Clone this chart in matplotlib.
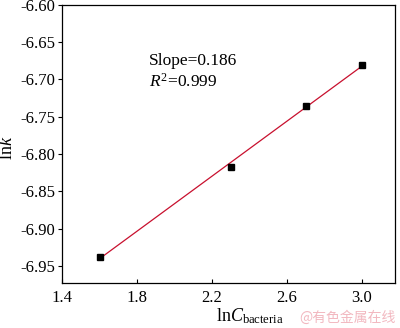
import numpy as np
import matplotlib
matplotlib.use('Agg')
import matplotlib.pyplot as plt

# measured points: ln(bacteria concentration) vs ln(rate constant)
ln_c = [1.6, 2.3, 2.7, 3.0]
ln_k = [-6.938, -6.817, -6.735, -6.681]
slope_text = 'Slope=0.186'
r2_text = '$R^2$=0.999'

x_ticks = [1.4, 1.8, 2.2, 2.6, 3.0]
y_ticks = [-6.60, -6.65, -6.70, -6.75, -6.80, -6.85, -6.90, -6.95]

plt.rcParams['font.family'] = ['Liberation Serif', 'DejaVu Serif']
plt.rcParams['mathtext.fontset'] = 'custom'
plt.rcParams['mathtext.rm'] = 'Liberation Serif'
plt.rcParams['mathtext.it'] = 'Liberation Serif:italic'

fig = plt.figure(figsize=(4.0, 3.28), dpi=100)
ax = fig.add_axes([0.155, 0.137, 0.8325, 0.848])

# linear fit through the points
coef = np.polyfit(ln_c, ln_k, 1)
xs = np.array([min(ln_c), max(ln_c)])
ax.plot(xs, np.polyval(coef, xs), color='#c8102e', lw=0.9, zorder=2)
ax.plot(ln_c, ln_k, 's', color='black', ms=4, zorder=3)

ax.set_xlim(1.4, 3.176)
ax.set_ylim(-6.973, -6.60)
ax.set_xticks(x_ticks)
ax.set_xticklabels([f'{v:.1f}' for v in x_ticks])
ax.set_yticks(y_ticks)
ax.set_yticklabels([f'-{abs(v):.2f}' for v in y_ticks])
ax.tick_params(axis='x', direction='in', length=3, labelsize=12, width=0.8, pad=5)
ax.tick_params(axis='y', direction='out', length=3, labelsize=12, width=0.8, pad=2)

for s in ax.spines.values():
    s.set_linewidth(0.9)

ax.text(0.26, 0.797, slope_text, transform=ax.transAxes, fontsize=12.5,
        va='center', ha='left')
ax.text(0.26, 0.725, r2_text, transform=ax.transAxes, fontsize=12.5,
        va='center', ha='left')

ax.set_xlabel(r'ln$\mathit{C}_{\mathrm{bacteria}}$', fontsize=13)
ax.xaxis.set_label_coords(0.565, -0.085)
ax.set_ylabel(r'ln$\mathit{k}$', fontsize=13)
ax.yaxis.set_label_coords(-0.137, 0.485)

fig.text(0.99, 0.01, '@有色金属在线', color='#f2b8c0', fontsize=10,
         ha='right', va='bottom', family=['Noto Sans CJK SC', 'DejaVu Sans'])

fig.savefig('out.png', dpi=100)
